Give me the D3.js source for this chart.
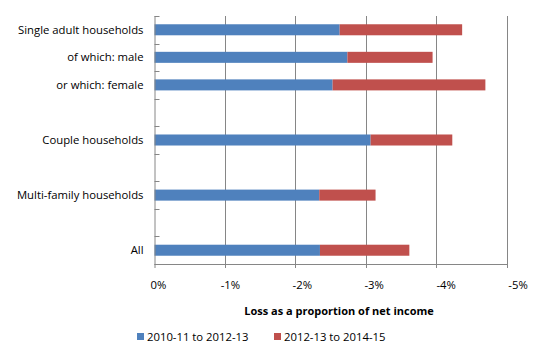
<!DOCTYPE html>
<html><head><meta charset="utf-8">
<script src="https://cdn.jsdelivr.net/npm/d3@7"></script>
<style>body{margin:0;background:#fff}svg{display:block}text{font-family:"Open Sans",sans-serif;fill:#000}</style>
</head><body><svg id="c" width="536" height="359"></svg>
<script>
const categories = ["Single adult households","of which: male","or which: female","gap1","Couple households","gap2","Multi-family households","gap3","All"];
const labels = ["Single adult households","of which: male ","or which: female","","Couple households","","Multi-family households","","All "];
const period1 = [-2.63,-2.74,-2.53,null,-3.07,null,-2.34,null,-2.35];
const period2 = [-1.74,-1.21,-2.17,null,-1.16,null,-0.80,null,-1.27];
const seriesNames = ["2010-11 to 2012-13","2012-13 to 2014-15"];
const colors = ["#4f81bd","#c0504d"];
const xTicks = [0,-1,-2,-3,-4,-5];
const xTickLabels = ["0%","-1%","-2%","-3%","-4%","-5%"];

const svg = d3.select("#c");
const L=154.5, R=506.5, T=16, B=264;
const FS=11.3;
const x = d3.scaleLinear().domain([0,-5]).range([L,R]);
// label positions (the original spreads tick labels slightly wider than gridlines)
const xl = d3.scaleLinear().domain([0,-5]).range([158,517.5]);
const y = d3.scaleBand().domain(categories).range([T,B]).paddingInner(0.6).paddingOuter(0.3);
const yb = d3.scaleBand().domain(categories).range([T,B]);

// gridlines
svg.append("g").selectAll("line").data(xTicks.slice(1)).join("line")
  .attr("x1",d=>Math.round(x(d))+0.5).attr("x2",d=>Math.round(x(d))+0.5)
  .attr("y1",T).attr("y2",B+4).attr("stroke","#868686");

// bars
const stack = categories.map((c,i)=>({c,v:[period1[i],period2[i]]}));
stack.forEach((s,i)=>{
  if(s.v[0]==null) return;
  let acc=0;
  s.v.forEach((v,j)=>{
    svg.append("rect").attr("x",x(acc)).attr("width",x(acc+v)-x(acc))
      .attr("y",y(s.c)).attr("height",y.bandwidth()).attr("fill",colors[j]);
    acc+=v;
  });
});

// x axis
const xa = d3.axisBottom(xl).tickValues(xTicks).tickFormat((d,i)=>xTickLabels[i]).tickSize(0).tickPadding(16);
const gx = svg.append("g").attr("transform",`translate(0,${B+0.5})`).call(xa);
gx.select(".domain").remove();
gx.selectAll("text").attr("font-size",FS).attr("font-family","Open Sans");
svg.append("line").attr("x1",L).attr("x2",R+0.5).attr("y1",B+0.5).attr("y2",B+0.5).attr("stroke","#868686");

const gy = svg.append("g").attr("transform",`translate(${L},0)`);
gy.append("line").attr("x1",0.5).attr("x2",0.5).attr("y1",T).attr("y2",B+4).attr("stroke","#868686");
gy.selectAll("line.t").data(categories.concat(["end"])).join("line").attr("class","t")
  .attr("x1",0).attr("x2",5).attr("y1",(d,i)=>Math.round(T+i*yb.step())+0.5).attr("y2",(d,i)=>Math.round(T+i*yb.step())+0.5).attr("stroke","#868686");
gy.selectAll("text").data(categories).join("text")
  .attr("x",-11).attr("y",d=>yb(d)+yb.bandwidth()/2).attr("dy","0.35em")
  .attr("text-anchor","end").attr("font-size",FS).text((d,i)=>labels[i]);

svg.append("text").attr("x",339).attr("y",311).attr("dy","0.35em").attr("text-anchor","middle")
  .attr("font-size",11).attr("font-weight","bold").text("Loss as a proportion of net income");

const lx=[137,274];
seriesNames.forEach((n,i)=>{
  svg.append("rect").attr("x",lx[i]).attr("y",333).attr("width",7).attr("height",7).attr("fill",colors[i]);
  svg.append("text").attr("x",lx[i]+10).attr("y",337).attr("dy","0.35em").attr("font-size",FS).text(n);
});
</script></body></html>
